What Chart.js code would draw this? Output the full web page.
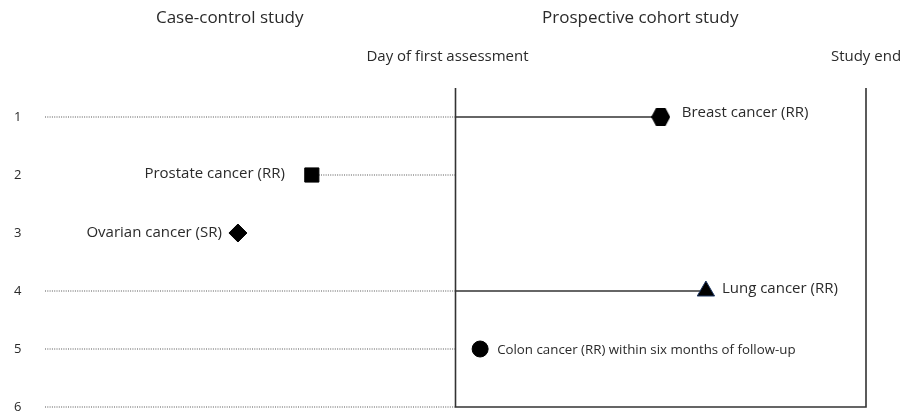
<!DOCTYPE html>
<html>
<head>
<meta charset="utf-8">
<script src="https://cdn.jsdelivr.net/npm/chart.js@4.4.0/dist/chart.umd.min.js"></script>
<style>
  html, body { margin: 0; padding: 0; background: #fff; overflow: hidden; }
  canvas { display: block; }
</style>
</head>
<body>
<canvas id="timeline" width="906" height="411"></canvas>
<script>
"use strict"

// rows (study numbers)
const rows = [1, 2, 3, 4, 5, 6];
// time axis: 0 = day of first assessment, 100 = study end, negative = before
const dayFirst = 0;
const studyEnd = 100;
const pastStart = -100;

// outcomes
const outcomeNames = ['Breast cancer (RR)', 'Prostate cancer (RR)', 'Ovarian cancer (SR)', 'Lung cancer (RR)', 'Colon cancer (RR) within six months of follow-up'];
const outcomeRow = [1, 2, 3, 4, 5];
const outcomeTime = [50, -35, -53, 61, 6];
const outcomeShape = ['hexagon', 'rect', 'rectRot', 'triangle', 'circle'];

// dotted (before assessment) segments, per row: start time or null
const dottedStart = [-100, -35, null, -100, -100, -100];
// solid follow-up segments, per row: end time or null
const solidEnd = [50, null, null, 61, null, null];

// headers
const headerTexts = ['Case-control study', 'Prospective cohort study'];
const headerPos = [-55, 45];
const markerTexts = ['Day of first assessment', 'Study end'];
const markerPos = [dayFirst, studyEnd];

const FONT = '"Open Sans"';
const TEXT = '#2a2a2a';
// marker look + label placement (px)
const markerSize = [9, 10, 9, 10, 8];
const labelDx = [21, -27, -16, 16, 17];
const labelDy = [-4, -1, 0, -2, 1];
const labelFont = [15, 15, 15, 15, 13.3];
const markerTextDx = [-8, 0];

// hexagon marker
const hex = document.createElement('canvas');
hex.width = 19; hex.height = 18;
const hctx = hex.getContext('2d');
hctx.fillStyle = '#000';
hctx.beginPath();
hctx.moveTo(0, 9); hctx.lineTo(4.75, 0); hctx.lineTo(14.25, 0);
hctx.lineTo(19, 9); hctx.lineTo(14.25, 18); hctx.lineTo(4.75, 18);
hctx.closePath(); hctx.fill();

const datasets = [];

rows.forEach((r, i) => {
    if (dottedStart[i] !== null) {
        datasets.push({
            type: 'line',
            order: 2,
            data: [{x: dottedStart[i], y: r}, {x: dayFirst, y: r}],
            borderColor: '#555',
            borderWidth: 1.2,
            borderDash: [1, 1.3],
            pointRadius: 0
        });
    }
    if (solidEnd[i] !== null) {
        datasets.push({
            type: 'line',
            order: 2,
            data: [{x: dayFirst, y: r}, {x: solidEnd[i], y: r}],
            borderColor: '#333',
            borderWidth: 1.6,
            pointRadius: 0
        });
    }
});

// cohort box (open at top)
datasets.push({
    type: 'line',
    order: 1,
    data: [{x: dayFirst, y: 0.5}, {x: dayFirst, y: 6}, {x: studyEnd, y: 6}, {x: studyEnd, y: 0.5}],
    borderColor: '#333',
    borderWidth: 1.6,
    pointRadius: 0
});

// outcome markers
datasets.push({
    type: 'scatter',
    order: 0,
    data: outcomeTime.map((t, i) => ({x: t, y: outcomeRow[i]})),
    pointStyle: outcomeShape.map(s => s === 'hexagon' ? hex : s),
    pointRadius: markerSize,
    backgroundColor: '#000',
    borderColor: outcomeShape.map(s => s === 'triangle' ? '#1f3864' : '#000'),
    borderWidth: 1
});

const textPlugin = {
    id: 'texts',
    afterDraw(chart) {
        const ctx = chart.ctx;
        const xs = chart.scales.x, ys = chart.scales.y;
        ctx.save();
        ctx.fillStyle = TEXT;
        ctx.textBaseline = 'middle';
        ctx.textAlign = 'center';
        ctx.font = '17px ' + FONT;
        headerTexts.forEach((t, i) => ctx.fillText(t, xs.getPixelForValue(headerPos[i]), 18));
        ctx.font = '15px ' + FONT;
        markerTexts.forEach((t, i) => ctx.fillText(t, xs.getPixelForValue(markerPos[i]) + markerTextDx[i], 57));
        outcomeNames.forEach((t, i) => {
            const px = xs.getPixelForValue(outcomeTime[i]);
            const py = ys.getPixelForValue(outcomeRow[i]);
            ctx.font = labelFont[i] + 'px ' + FONT;
            ctx.textAlign = labelDx[i] < 0 ? 'right' : 'left';
            ctx.fillText(t, px + labelDx[i], py + labelDy[i]);
        });
        ctx.restore();
    }
};

new Chart(document.getElementById('timeline'), {
    data: { datasets: datasets },
    options: {
        responsive: false,
        animation: false,
        clip: false,
        layout: { autoPadding: false, padding: { top: 88, right: 40, bottom: 4, left: 14 } },
        plugins: { legend: { display: false }, tooltip: { enabled: false } },
        scales: {
            x: {
                type: 'linear',
                min: pastStart,
                max: studyEnd,
                display: false
            },
            y: {
                type: 'linear',
                reverse: true,
                min: 0.5,
                max: 6,
                afterBuildTicks: axis => { axis.ticks = rows.map(v => ({value: v})); },
                afterFit: axis => { axis.width = 31; },
                border: { display: false },
                grid: { display: false, drawTicks: false },
                ticks: {
                    color: TEXT,
                    padding: 0,
                    crossAlign: 'far',
                    font: { family: FONT, size: 13, lineHeight: 0.5 }
                }
            }
        }
    },
    plugins: [textPlugin]
});
</script>
</body>
</html>
